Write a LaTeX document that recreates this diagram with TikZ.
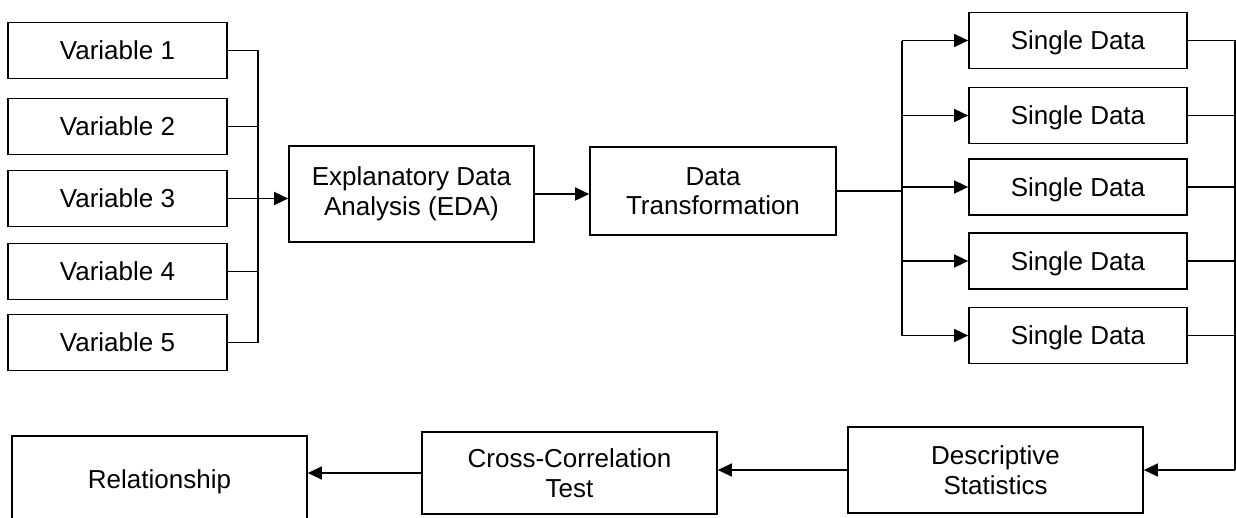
\documentclass[tikz,border=0pt]{standalone}
\usepackage{fontspec}
\setmainfont{Liberation Sans}
\usetikzlibrary{arrows.meta}
\tikzset{
  box/.style={draw=black, line width=1.7pt, fill=white, inner sep=0pt, align=center,
    font=\fontsize{26}{29.5}\selectfont},
  onel/.style={text height=18.6pt, text depth=0pt},
  vbox/.style={box, onel, minimum width=219pt, minimum height=56pt},
  sbox/.style={box, onel, minimum width=218pt, minimum height=56pt},
  bbox/.style={box, minimum width=295pt, minimum height=84pt},
  conn/.style={draw=black, line width=1.5pt},
  arr/.style={conn, -{Triangle[length=14pt,width=13pt]}}
}
\begin{document}
\begin{tikzpicture}[x=1pt,y=1pt]
\useasboundingbox (0,0) rectangle (1236,-517);
\clip (0,0) rectangle (1236,-517);
% left column
\node[vbox] (v1) at (117.5,-50.5) {Variable 1};
\node[vbox] (v2) at (117.5,-126.5) {Variable 2};
\node[vbox] (v3) at (117.5,-198.5) {Variable 3};
\node[vbox] (v4) at (117.5,-271.5) {Variable 4};
\node[vbox] (v5) at (117.5,-342.5) {Variable 5};
% middle
\node[box, minimum width=245pt, minimum height=96pt] (eda) at (411.5,-194) {Explanatory Data\\Analysis (EDA)};
\node[box, minimum width=246pt, minimum height=88pt] (dt) at (713,-191) {Data\\Transformation};
% single data column
\node[sbox] (s1) at (1078,-40.5) {Single Data};
\node[sbox] (s2) at (1078,-115.5) {Single Data};
\node[sbox] (s3) at (1078,-187) {Single Data};
\node[sbox] (s4) at (1078,-261) {Single Data};
\node[sbox] (s5) at (1078,-335.5) {Single Data};
% bottom row
\node[bbox, onel, minimum height=86pt] (rel) at (159.5,-479) {Relationship};
\node[bbox, minimum height=82pt] (cc) at (569.5,-473) {Cross-Correlation\\Test};
\node[bbox, minimum height=86pt] (ds) at (995.5,-470) {Descriptive\\Statistics};
% bus coordinates
\coordinate (lb) at (258,0);
\coordinate (mb) at (902,0);
\coordinate (rb) at (1235.2,0);
% left bus
\draw[conn] (v1.east) -- (v1.east -| lb) -- (v5.east -| lb) -- (v5.east);
\draw[conn] (v2.east) -- (v2.east -| lb);
\draw[conn] (v4.east) -- (v4.east -| lb);
\draw[arr] (v3.east) -- (v3.east -| eda.west);
\draw[arr] (eda.east) -- (eda.east -| dt.west);
% middle bus
\draw[conn] (dt.east) -- (dt.east -| mb);
\draw[conn] (s1.west -| mb) -- (s5.west -| mb);
\foreach \i in {1,...,5} \draw[arr] (s\i.west -| mb) -- (s\i.west);
% right bus
\draw[conn] (s1.east) -- (s1.east -| rb) -- (ds.east -| rb);
\foreach \i in {2,...,5} \draw[conn] (s\i.east) -- (s\i.east -| rb);
\draw[arr] (ds.east -| rb) -- (ds.east);
% bottom arrows
\draw[arr] (ds.west) -- (ds.west -| cc.east);
\draw[arr] (cc.west) -- (cc.west -| rel.east);
\end{tikzpicture}
\end{document}
